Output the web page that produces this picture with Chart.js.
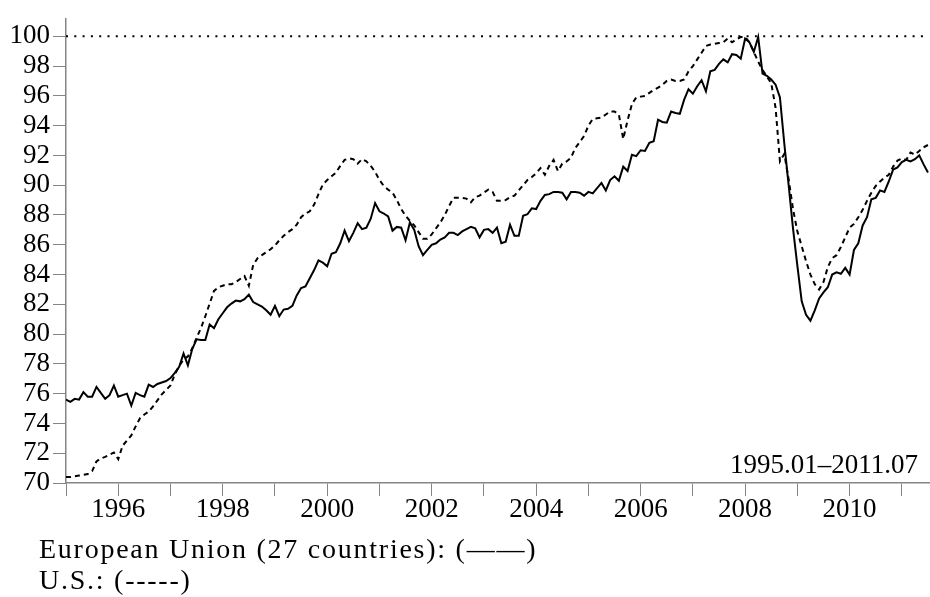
<!DOCTYPE html>
<html>
<head>
<meta charset="utf-8">
<script src="https://cdn.jsdelivr.net/npm/chart.js@4.4.1/dist/chart.umd.min.js"></script>
<style>
html,body{margin:0;padding:0;background:#fff;}
#wrap{position:relative;width:930px;height:597px;overflow:hidden;background:#fff;}
canvas{position:absolute;left:0;top:0;}
.txt{position:absolute;font-family:"Liberation Serif","Times New Roman",serif;color:#000;white-space:nowrap;}
</style>
</head>
<body>
<div id="wrap">
  <canvas id="c" width="930" height="597"></canvas>
  <div class="txt" id="range" style="right:12px;top:449px;font-size:27px;line-height:31px;"></div>
  <div class="txt" id="leg1" style="left:39px;top:533px;font-size:28px;line-height:31px;letter-spacing:1.75px;"></div>
  <div class="txt" id="leg2" style="left:39px;top:564px;font-size:28px;line-height:31px;letter-spacing:1.75px;"></div>
</div>
<script>
// ---- data ----
const startYear = 1995;
const startMonth = 1;
const seriesNames = ['European Union (27 countries)', 'U.S.'];
const legendMarks = ['(——)', '(-----)'];
const rangeLabel = '1995.01–2011.07';

const euValues = [
  75.6, 75.45, 75.65, 75.6, 76.1, 75.8, 75.8, 76.45, 76.05, 75.65, 75.9, 76.55,
  75.8, 75.9, 76.0, 75.2, 76.05, 75.9, 75.8, 76.6, 76.45, 76.65, 76.75, 76.85,
  77.05, 77.4, 77.8, 78.7, 77.9, 79.0, 79.65, 79.6, 79.6, 80.65, 80.4, 81.0,
  81.4, 81.8, 82.05, 82.25, 82.2, 82.35, 82.65, 82.15, 82.0, 81.85, 81.6, 81.3,
  81.9, 81.2, 81.65, 81.7, 81.9, 82.6, 83.1, 83.2, 83.75, 84.3, 84.95, 84.8,
  84.55, 85.4, 85.5, 86.1, 86.95, 86.25, 86.8, 87.45, 87.05, 87.15, 87.75, 88.8,
  88.25, 88.1, 87.9, 86.95, 87.2, 87.15, 86.3, 87.5, 87.0, 85.9, 85.3, 85.65,
  86.0, 86.1, 86.35, 86.5, 86.8, 86.8, 86.65, 86.9, 87.05, 87.2, 87.1, 86.5,
  87.0, 87.05, 86.8, 87.15, 86.1, 86.2, 87.35, 86.6, 86.6, 87.95, 88.05, 88.45,
  88.4, 88.95, 89.35, 89.4, 89.55, 89.55, 89.5, 89.05, 89.55, 89.55, 89.5, 89.3,
  89.55, 89.45, 89.8, 90.15, 89.65, 90.35, 90.6, 90.3, 91.25, 90.95, 92.05, 91.95,
  92.35, 92.3, 92.85, 92.95, 94.4, 94.25, 94.2, 94.95, 94.85, 94.8, 95.75, 96.45,
  96.15, 96.65, 97.05, 96.3, 97.65, 97.75, 98.15, 98.45, 98.25, 98.8, 98.75, 98.5,
  99.85, 99.6, 98.95, 99.95, 97.5, 97.35, 97.1, 96.75, 95.9, 92.8, 90.0, 87.1,
  84.6, 82.2, 81.3, 80.9, 81.6, 82.4, 82.8, 83.15, 84.0, 84.15, 84.05, 84.45,
  84.0, 85.65, 86.1, 87.3, 87.85, 89.05, 89.15, 89.65, 89.55, 90.25, 91.05, 91.2,
  91.55, 91.7, 91.6, 91.75, 92.0, 91.4, 90.85
];

const usValues = [
  70.4, 70.4, 70.45, 70.5, 70.55, 70.6, 70.8, 71.45, 71.65, 71.75, 71.9, 72.05,
  71.6, 72.5, 72.85, 73.2, 73.8, 74.35, 74.6, 74.8, 75.15, 75.55, 75.95, 76.25,
  76.55, 77.3, 77.85, 78.3, 78.5, 79.05, 79.75, 80.4, 81.2, 82.05, 82.9, 83.15,
  83.25, 83.35, 83.35, 83.5, 83.7, 83.9, 83.25, 84.65, 85.1, 85.3, 85.5, 85.7,
  85.95, 86.3, 86.6, 86.85, 87.05, 87.35, 87.85, 88.1, 88.25, 88.7, 89.4, 90.05,
  90.35, 90.6, 90.85, 91.3, 91.7, 91.8, 91.75, 91.45, 91.75, 91.6, 91.3, 90.9,
  90.35, 89.95, 89.7, 89.5, 89.0, 88.4, 87.95, 87.6, 87.3, 86.85, 86.4, 86.4,
  86.7, 87.1, 87.5, 88.0, 88.6, 89.15, 89.15, 89.15, 89.1, 88.85, 89.2, 89.3,
  89.5, 89.7, 89.55, 88.95, 88.95, 89.0, 89.2, 89.3, 89.65, 90.0, 90.35, 90.55,
  90.8, 91.15, 90.7, 91.3, 91.7, 90.95, 91.45, 91.6, 91.85, 92.5, 92.9, 93.3,
  94.0, 94.45, 94.5, 94.55, 94.75, 94.95, 94.95, 94.75, 93.1, 94.35, 95.45, 95.9,
  95.95, 96.0, 96.2, 96.4, 96.55, 96.75, 97.0, 97.1, 97.0, 97.0, 97.1, 97.65,
  98.0, 98.45, 98.9, 99.35, 99.45, 99.5, 99.55, 99.6, 99.85, 99.6, 99.8, 99.95,
  99.95, 99.6, 98.95, 98.3, 97.75, 97.3, 96.85, 95.2, 91.6, 92.1, 90.4, 88.4,
  86.9, 85.9, 84.9, 84.0, 83.35, 83.0, 83.5, 84.5, 85.1, 85.3, 85.85, 86.5,
  87.15, 87.4, 87.85, 88.35, 88.95, 89.5, 89.95, 90.25, 90.5, 90.7, 91.25, 91.65,
  91.8, 91.7, 92.2, 92.05, 92.3, 92.55, 92.7
];

const yTicks = [70, 72, 74, 76, 78, 80, 82, 84, 86, 88, 90, 92, 94, 96, 98, 100];
const xTicks = [1995, 1996, 1997, 1998, 1999, 2000, 2001, 2002, 2003, 2004, 2005, 2006, 2007, 2008, 2009, 2010, 2011];
const xLabelYears = [1996, 1998, 2000, 2002, 2004, 2006, 2008, 2010];
const refLevel = 100;
const xMin = 1995, xMax = 2011.52, yMin = 70, yMax = 101.15;

// month labels "YYYY.MM"
const categories = euValues.map((_, i) => {
  const k = startMonth - 1 + i;
  const y = startYear + Math.floor(k / 12);
  const m = (k % 12) + 1;
  return y + '.' + String(m).padStart(2, '0');
});
function toX(label) {
  const [y, m] = label.split('.').map(Number);
  return y + (m - 1) / 12;
}

// ---- texts ----
document.getElementById('range').textContent = rangeLabel;
document.getElementById('leg1').textContent = seriesNames[0] + ': ' + legendMarks[0];
document.getElementById('leg2').textContent = seriesNames[1] + ': ' + legendMarks[1];

// ---- chart ----
const axisGray = '#858585';
const tickFont = { family: "'Liberation Serif', 'Times New Roman', serif", size: 27 };

new Chart(document.getElementById('c').getContext('2d'), {
  type: 'line',
  data: {
    datasets: [
      {
        label: seriesNames[0],
        data: categories.map((c, i) => ({ x: toX(c), y: euValues[i] })),
        borderColor: '#000', borderWidth: 2, pointRadius: 0, tension: 0, fill: false,
        borderJoinStyle: 'miter'
      },
      {
        label: seriesNames[1],
        data: categories.map((c, i) => ({ x: toX(c), y: usValues[i] })),
        borderColor: '#000', borderWidth: 2, borderDash: [5, 4], pointRadius: 0, tension: 0, fill: false
      },
      {
        label: 'reference',
        data: [{ x: xMin, y: refLevel }, { x: xMax, y: refLevel }],
        borderColor: '#000', borderWidth: 2, borderDash: [2, 6.3], pointRadius: 0, fill: false
      }
    ]
  },
  options: {
    responsive: false,
    animation: false,
    events: [],
    layout: { padding: { top: 12, right: 1, bottom: 74, left: 0 } },
    plugins: { legend: { display: false }, tooltip: { enabled: false } },
    scales: {
      x: {
        type: 'linear', min: xMin, max: xMax,
        afterBuildTicks: s => { s.ticks = xTicks.map(v => ({ value: v })); },
        afterFit: s => { s.height = 40; },
        grid: { drawOnChartArea: false, drawTicks: true, tickLength: 13, color: axisGray, tickColor: axisGray, lineWidth: 1 },
        border: { display: true, color: axisGray, width: 1.5 },
        ticks: {
          autoSkip: false, maxRotation: 0, minRotation: 0, padding: -2, color: '#000', font: tickFont,
          callback: v => xLabelYears.includes(v) ? String(v) : ''
        }
      },
      y: {
        min: yMin, max: yMax,
        afterBuildTicks: s => { s.ticks = yTicks.map(v => ({ value: v })); },
        afterFit: s => { s.width = 66; },
        grid: { drawOnChartArea: false, drawTicks: true, tickLength: 13, color: axisGray, tickColor: axisGray, lineWidth: 1 },
        border: { display: true, color: axisGray, width: 1.5 },
        ticks: { autoSkip: false, padding: 3, color: '#000', font: tickFont, callback: v => String(v) }
      }
    }
  }
});
</script>
</body>
</html>
